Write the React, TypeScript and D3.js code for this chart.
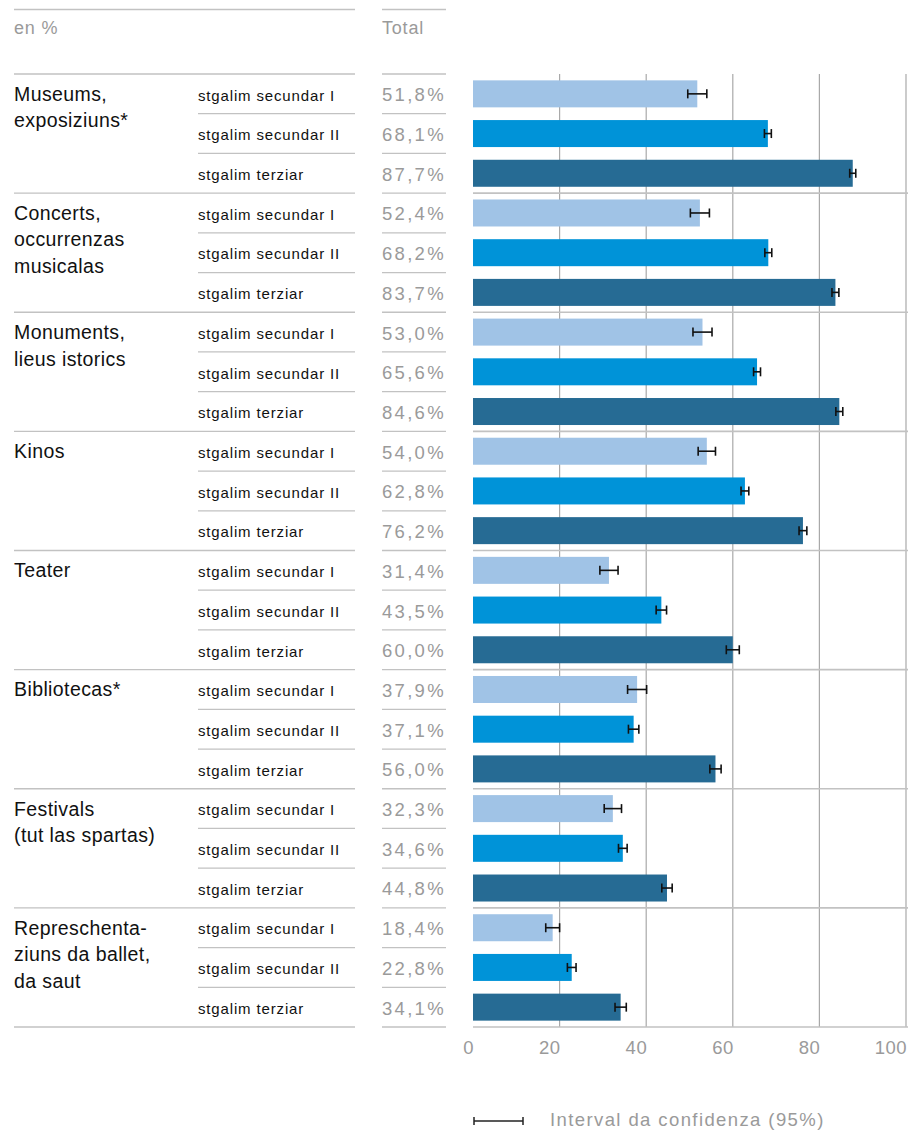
import React, { useEffect } from "react";
import * as d3 from "d3";

const groups: string[][] = [
  ["Museums,", "exposiziuns*"],
  ["Concerts,", "occurrenzas", "musicalas"],
  ["Monuments,", "lieus istorics"],
  ["Kinos"],
  ["Teater"],
  ["Bibliotecas*"],
  ["Festivals", "(tut las spartas)"],
  ["Represchenta-", "ziuns da ballet,", "da saut"],
];
const levels = ["stgalim secundar I", "stgalim secundar II", "stgalim terziar"];
const secI = [51.8, 52.4, 53.0, 54.0, 31.4, 37.9, 32.3, 18.4];
const secII = [68.1, 68.2, 65.6, 62.8, 43.5, 37.1, 34.6, 22.8];
const terz = [87.7, 83.7, 84.6, 76.2, 60.0, 56.0, 44.8, 34.1];
const ciI = [2.2, 2.2, 2.2, 2.0, 2.1, 2.2, 2.0, 1.6];
const ciII = [0.8, 0.8, 0.8, 0.9, 1.2, 1.2, 1.0, 1.0];
const ciT = [0.7, 0.8, 0.8, 0.9, 1.5, 1.3, 1.2, 1.3];
const ticks = [0, 20, 40, 60, 80, 100];
const colors = ["#a0c3e6", "#0093d8", "#266b94"];

const W = 913;
const H = 1130;
const top = 74;
const bottom = 1027;
const FONT = "'Liberation Sans', Arial, Helvetica, sans-serif";
const LINE = "#c2c2c2";
const GRAY = "#9a9a9a";

export default function App() {
  useEffect(() => {
    document.body.style.margin = "0";
    document.body.style.overflow = "hidden";
    document.documentElement.style.overflow = "hidden";
  }, []);
  const x = d3.scaleLinear().domain([0, 100]).range([473, 906]);
  const rows = groups.flatMap((g, gi) =>
    levels.map((lv, li) => ({
      key: `${gi}-${li}`,
      gi,
      li,
      level: lv,
      value: [secI, secII, terz][li][gi],
      ci: [ciI, ciII, ciT][li][gi],
    }))
  );
  const y = d3
    .scaleBand<string>()
    .domain(rows.map((r) => r.key))
    .range([top, bottom])
    .paddingInner(0)
    .paddingOuter(0);
  const rh = y.bandwidth();
  const barH = 27;
  const fmt = (v: number) => v.toFixed(1).replace(".", ",") + "%";

  return (
    <svg
      width={W}
      height={H}
      style={{ display: "block", position: "fixed", left: 0, top: 0 }}
      fontFamily={FONT}
    >
      <rect width={W} height={H} fill="#fff" />
      {/* header */}
      <line x1={14} x2={355} y1={9.5} y2={9.5} stroke={LINE} strokeWidth={1.3} />
      <line x1={382} x2={446} y1={9.5} y2={9.5} stroke={LINE} strokeWidth={1.3} />
      <text x={14} y={28} dy="0.35em" fill={GRAY} fontSize={18} letterSpacing={0.8}>en %</text>
      <text x={382} y={28} dy="0.35em" fill={GRAY} fontSize={18} letterSpacing={0.8}>Total</text>

      {/* vertical gridlines */}
      {ticks.slice(1).map((t) => (
        <line key={t} x1={x(t)} x2={x(t)} y1={top} y2={bottom} stroke="#a9a9a9" strokeWidth={1.2} />
      ))}

      {/* row lines */}
      {rows.map((r) => {
        const yt = y(r.key)!;
        const isGroupTop = r.li === 0;
        return (
          <g key={"l" + r.key}>
            <line x1={isGroupTop ? 14 : 198} x2={355} y1={yt} y2={yt} stroke={LINE} strokeWidth={1.3} />
            <line x1={382} x2={446} y1={yt} y2={yt} stroke={LINE} strokeWidth={1.3} />
            {isGroupTop && r.gi > 0 && (
              <line x1={473} x2={908} y1={yt} y2={yt} stroke={LINE} strokeWidth={1.6} />
            )}
          </g>
        );
      })}
      <line x1={14} x2={355} y1={bottom} y2={bottom} stroke={LINE} strokeWidth={1.3} />
      <line x1={382} x2={446} y1={bottom} y2={bottom} stroke={LINE} strokeWidth={1.3} />
      <line x1={473} x2={908} y1={bottom} y2={bottom} stroke={LINE} strokeWidth={1.6} />

      {/* group labels */}
      {groups.map((lines, gi) => {
        const yc = y(`${gi}-0`)! + rh / 2;
        return (
          <text key={"g" + gi} x={14} fill="#111" fontSize={19.5} letterSpacing={0.4}>
            {lines.map((ln, i) => (
              <tspan key={i} x={14} y={yc + 7 + i * 26.5}>{ln}</tspan>
            ))}
          </text>
        );
      })}

      {/* rows */}
      {rows.map((r) => {
        const yt = y(r.key)!;
        const yc = yt + rh / 2;
        const by = yc - barH / 2;
        const x0 = x(r.value - r.ci);
        const x1 = x(r.value + r.ci);
        return (
          <g key={r.key}>
            <text x={198} y={yc + 1.5} dy="0.35em" fill="#111" fontSize={15} letterSpacing={0.85}>{r.level}</text>
            <text x={382} y={yc + 1} dy="0.35em" fill={GRAY} fontSize={18.5} letterSpacing={2.3}>{fmt(r.value)}</text>
            <rect x={x(0)} y={by} width={x(r.value) - x(0)} height={barH} fill={colors[r.li]} />
            <line x1={x0} x2={x1} y1={yc} y2={yc} stroke="#111" strokeWidth={1.6} />
            <line x1={x0} x2={x0} y1={yc - 4.5} y2={yc + 4.5} stroke="#111" strokeWidth={1.6} />
            <line x1={x1} x2={x1} y1={yc - 4.5} y2={yc + 4.5} stroke="#111" strokeWidth={1.6} />
          </g>
        );
      })}

      {/* axis labels */}
      {ticks.map((t) => (
        <text key={"t" + t} x={x(t) + 1} y={1048} dy="0.35em" textAnchor="end" fill={GRAY} fontSize={18.5} letterSpacing={0.5}>
          {t}
        </text>
      ))}

      {/* legend */}
      <g>
        <line x1={474} x2={523} y1={1121} y2={1121} stroke="#222" strokeWidth={1.5} />
        <line x1={474} x2={474} y1={1117} y2={1125} stroke="#222" strokeWidth={1.5} />
        <line x1={523} x2={523} y1={1117} y2={1125} stroke="#222" strokeWidth={1.5} />
        <text x={550} y={1120} dy="0.35em" fill={GRAY} fontSize={18.5} letterSpacing={1.4}>
          Interval da confidenza (95%)
        </text>
      </g>
    </svg>
  );
}
